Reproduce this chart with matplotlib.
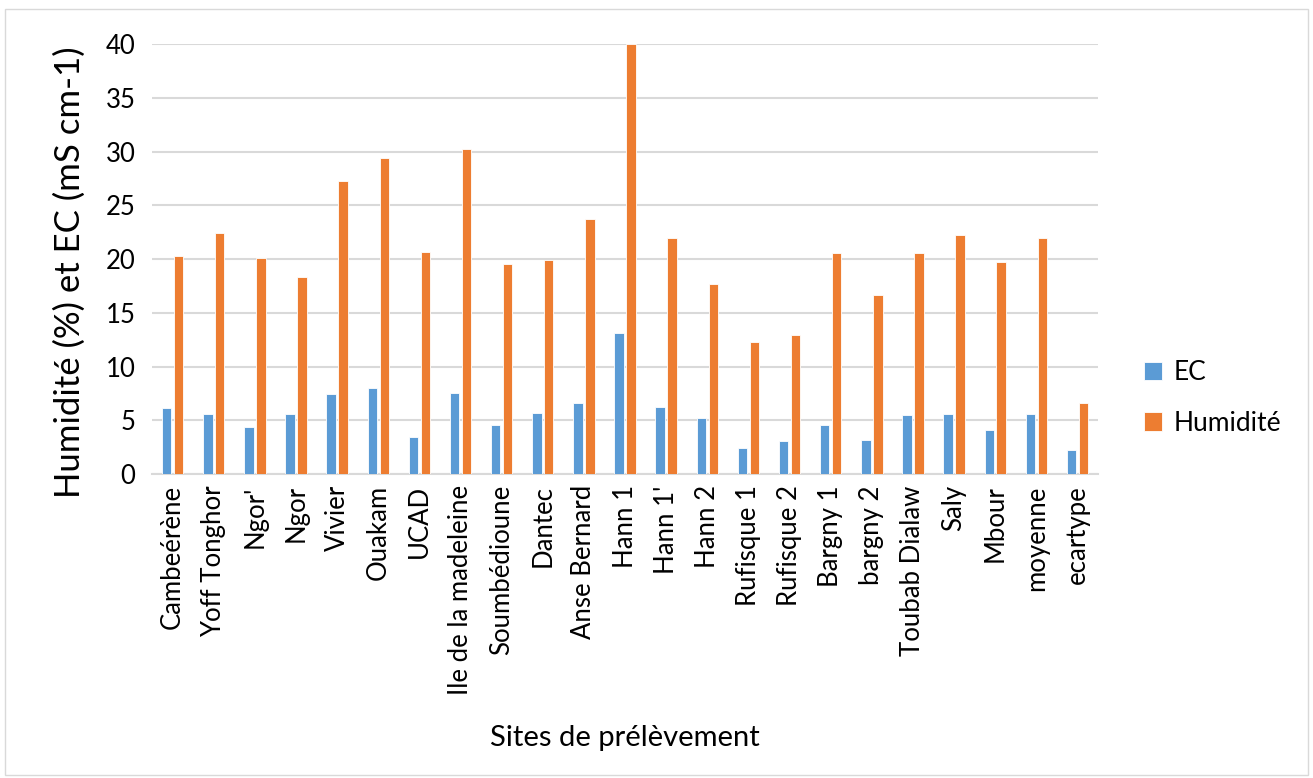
import numpy as np
import matplotlib
matplotlib.use("Agg")
import matplotlib.pyplot as plt

plt.rcParams['font.family'] = ['Lato', 'DejaVu Sans']

sites = ["Cambeérène", "Yoff Tonghor", "Ngor'", "Ngor", "Vivier", "Ouakam", "UCAD",
         "Ile de la madeleine", "Soumbédioune", "Dantec", "Anse Bernard", "Hann 1",
         "Hann 1'", "Hann 2", "Rufisque 1", "Rufisque 2", "Bargny 1", "bargny 2",
         "Toubab Dialaw", "Saly", "Mbour", "moyenne", "ecartype"]
ec = [6.11, 5.55, 4.37, 5.58, 7.47, 8.0, 3.44, 7.53, 4.59, 5.71, 6.64, 13.15,
      6.2, 5.18, 2.45, 3.1, 4.53, 3.19, 5.46, 5.61, 4.12, 5.61, 2.23]
humidite = [20.28, 22.45, 20.06, 18.33, 27.22, 29.43, 20.68, 30.2, 19.5, 19.94, 23.72, 40.0,
            21.98, 17.64, 12.28, 12.9, 20.53, 16.62, 20.59, 22.26, 19.72, 21.92, 6.64]

fig = plt.figure(figsize=(13.13, 7.78), dpi=100)
ax = fig.add_axes([0.1158, 0.3907, 0.8363 - 0.1158, 0.9434 - 0.3907])

x = np.arange(len(sites))
w = 0.23
b1 = ax.bar(x - 0.145, ec, w, color='#5B9BD5', edgecolor='white', linewidth=0.6, label='EC', zorder=3)
b2 = ax.bar(x + 0.145, humidite, w, color='#ED7D31', edgecolor='white', linewidth=0.6, label='Humidité', zorder=3)

ax.set_xlim(-0.5, len(sites) - 0.5)
ax.set_ylim(0, 40)
ax.set_yticks(range(0, 41, 5))
ax.yaxis.grid(True, color='#d9d9d9', linewidth=1.5, zorder=0)
ax.set_axisbelow(True)
for s in ['top', 'right', 'left']:
    ax.spines[s].set_visible(False)
ax.spines['bottom'].set_color('#d9d9d9')
ax.spines['bottom'].set_linewidth(1.5)
ax.tick_params(length=0, labelsize=18.5, colors='black')
ax.tick_params(axis='y', pad=12)
ax.tick_params(axis='x', pad=8)
ax.set_xticks(x)
ax.set_xticklabels(sites, rotation=90)

fig.text(0.4756, 1 - 738 / 778, "Sites de prélèvement", ha='center', va='center', fontsize=21)
fig.text(70 / 1313, 1 - 272 / 778, "Humidité (%) et EC (mS cm-1)", ha='center', va='center',
         rotation=90, fontsize=25)

fig.legend(handles=[b1, b2], loc='center left', bbox_to_anchor=(1120 / 1313, 1 - 398 / 778),
           frameon=False, fontsize=19, handlelength=0.7, handleheight=0.7,
           handletextpad=0.45, labelspacing=0.95)

fig.add_artist(plt.Rectangle((0.004, 0.004), 0.992, 0.985, transform=fig.transFigure,
                             fill=False, edgecolor='#d9d9d9', linewidth=1))

fig.savefig("out.png", dpi=100)
